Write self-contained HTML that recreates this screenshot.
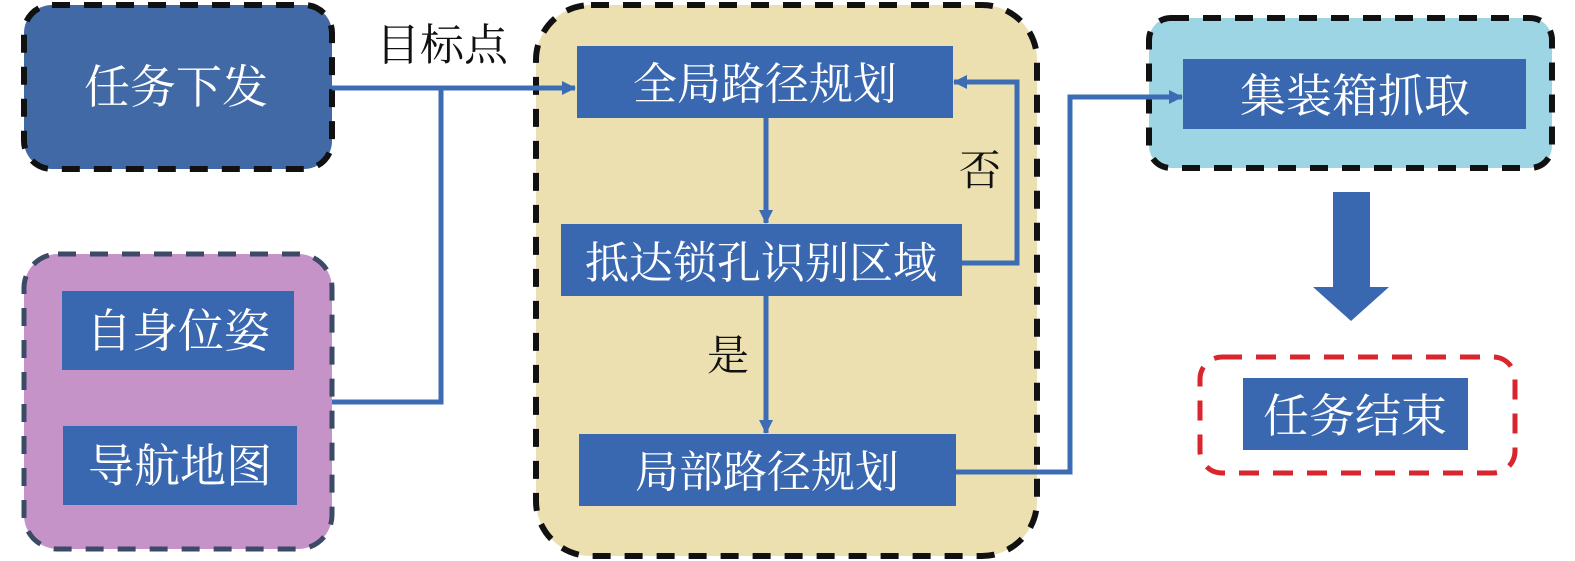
<!DOCTYPE html>
<html><head><meta charset="utf-8"><style>
html,body{margin:0;padding:0;background:#fff;}
svg{display:block}
text{font-family:"Liberation Serif","Noto Serif CJK SC",serif;}
</style></head><body>
<svg width="1575" height="561" viewBox="0 0 1575 561" xmlns="http://www.w3.org/2000/svg">
<defs>
<marker id="ah" markerWidth="14" markerHeight="14" refX="13" refY="7" orient="auto" markerUnits="userSpaceOnUse"><path d="M0,0 L14,7 L0,14 z" fill="#3b6cb4"/></marker>
</defs>
<!-- box1 -->
<rect x="24" y="5" width="308" height="164" rx="28" fill="#4169a6" stroke="#111" stroke-width="6" stroke-dasharray="18,14"/>
<text x="176" y="103" font-size="46" fill="#fff" text-anchor="middle">任务下发</text>
<text x="442" y="60" font-size="44" fill="#111" text-anchor="middle">目标点</text>
<!-- box2 -->
<rect x="24" y="254" width="308" height="295" rx="34" fill="#c693c8" stroke="#3c4a66" stroke-width="5" stroke-dasharray="18,14"/>
<rect x="62" y="291" width="232" height="79" fill="#3a68b0"/>
<text x="178" y="347" font-size="46" fill="#fff" text-anchor="middle">自身位姿</text>
<rect x="63" y="426" width="234" height="79" fill="#3a68b0"/>
<text x="180" y="482" font-size="46" fill="#fff" text-anchor="middle">导航地图</text>
<!-- middle -->
<rect x="536" y="5" width="501" height="551" rx="55" fill="#ede0b0" stroke="#111" stroke-width="6" stroke-dasharray="18,14"/>
<rect x="577" y="46" width="376" height="72" fill="#3a68b0"/>
<text x="765" y="99" font-size="44" fill="#fff" text-anchor="middle">全局路径规划</text>
<rect x="561" y="224" width="401" height="72" fill="#3a68b0"/>
<text x="761" y="278" font-size="44" fill="#fff" text-anchor="middle">抵达锁孔识别区域</text>
<rect x="579" y="434" width="377" height="72" fill="#3a68b0"/>
<text x="767" y="487" font-size="44" fill="#fff" text-anchor="middle">局部路径规划</text>
<text x="980" y="185" font-size="42" fill="#111" text-anchor="middle">否</text>
<text x="728" y="370" font-size="42" fill="#111" text-anchor="middle">是</text>
<!-- right -->
<rect x="1149" y="18" width="403" height="150" rx="22" fill="#9dd5e5" stroke="#111" stroke-width="6" stroke-dasharray="18,14"/>
<rect x="1183" y="59" width="343" height="70" fill="#3a68b0"/>
<text x="1355" y="112" font-size="46" fill="#fff" text-anchor="middle">集装箱抓取</text>
<path d="M1333 192 H1370 V287 H1389 L1351 321 L1313 287 H1333 Z" fill="#3a68b0"/>
<rect x="1200" y="357" width="315" height="116" rx="22" fill="#fff" stroke="#d9262c" stroke-width="5" stroke-dasharray="20,14"/>
<rect x="1243" y="378" width="225" height="72" fill="#3a68b0"/>
<text x="1355" y="432" font-size="46" fill="#fff" text-anchor="middle">任务结束</text>
<!-- connectors -->
<g fill="none" stroke="#3b6cb4" stroke-width="5">
<path d="M332 88 H575" marker-end="url(#ah)"/>
<path d="M332 402 H441 V88"/>
<path d="M766 118 V223" marker-end="url(#ah)"/>
<path d="M766 296 V433" marker-end="url(#ah)"/>
<path d="M962 263 H1017 V82 H954" marker-end="url(#ah)"/>
<path d="M956 472 H1070 V97 H1182" marker-end="url(#ah)"/>
</g>
</svg>
</body></html>
